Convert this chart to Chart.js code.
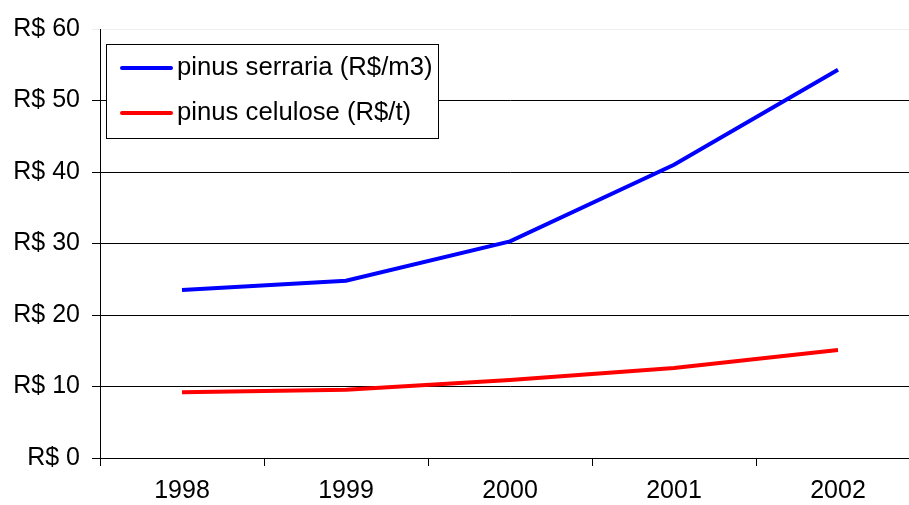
<!DOCTYPE html>
<html>
<head>
<meta charset="utf-8">
<script src="https://cdn.jsdelivr.net/npm/chart.js@4"></script>
<style>
  html, body { margin: 0; padding: 0; background: #fff; overflow: hidden; }
  #wrap { width: 921px; height: 505px; }
</style>
</head>
<body>
<div id="wrap"><canvas id="chart"></canvas></div>
<script>
// data
const years = ["1998", "1999", "2000", "2001", "2002"];
const serraria = [23.5, 24.8, 30.3, 41.0, 54.3];
const celulose = [9.2, 9.55, 10.9, 12.6, 15.1];
const seriesNames = ["pinus serraria (R$/m3)", "pinus celulose (R$/t)"];

const FONT = "'Liberation Sans', Arial, sans-serif";

// legend box drawn inside the plot area
const boxLegend = {
    id: "boxLegend",
    afterDraw(chart) {
        const ctx = chart.ctx;
        const x = 106, y = 44, w = 332, h = 94;
        ctx.save();
        ctx.fillStyle = "#fff";
        ctx.fillRect(x, y, w, h);
        ctx.strokeStyle = "#000";
        ctx.lineWidth = 1;
        ctx.strokeRect(x + 0.5, y + 0.5, w, h);
        ctx.font = "25.7px " + FONT;
        ctx.textBaseline = "middle";
        chart.data.datasets.forEach((ds, i) => {
            const cy = y + 24 + i * 45;
            ctx.strokeStyle = ds.borderColor;
            ctx.lineWidth = 4;
            ctx.lineCap = "round";
            ctx.beginPath();
            ctx.moveTo(x + 16, cy);
            ctx.lineTo(x + 65, cy);
            ctx.stroke();
            ctx.fillStyle = "#000";
            ctx.fillText(ds.label, x + 71, cy);
        });
        ctx.restore();
    }
};

new Chart(document.getElementById("chart"), {
    type: "line",
    data: {
        labels: years,
        datasets: [
            { label: seriesNames[0], data: serraria, borderColor: "#0000ff", borderWidth: 4, pointRadius: 0, tension: 0 },
            { label: seriesNames[1], data: celulose, borderColor: "#ff0000", borderWidth: 4, pointRadius: 0, tension: 0 }
        ]
    },
    options: {
        responsive: true,
        maintainAspectRatio: false,
        animation: false,
        layout: { padding: { top: 29, right: 1, bottom: 0, left: 0 } },
        plugins: { legend: { display: false }, tooltip: { enabled: false } },
        scales: {
            x: {
                offset: true,
                grid: { offset: true, drawOnChartArea: false, color: "#000", tickLength: 8 },
                border: { color: "#000", width: 1 },
                ticks: { color: "#000", font: { family: FONT, size: 25 }, padding: 10, maxRotation: 0 },
                afterFit: (s) => { s.height = 47; }
            },
            y: {
                min: 0,
                max: 60,
                grid: {
                    color: (c) => (c.tick && c.tick.value === 60 ? "#eeeeee" : "#000"),
                    tickLength: 8
                },
                border: { color: "#000", width: 1 },
                ticks: {
                    stepSize: 10,
                    color: "#000",
                    font: { family: FONT, size: 25 },
                    padding: 12,
                    callback: (v) => "R$ " + v
                },
                afterFit: (s) => { s.width = 100; }
            }
        }
    },
    plugins: [boxLegend]
});
</script>
</body>
</html>
